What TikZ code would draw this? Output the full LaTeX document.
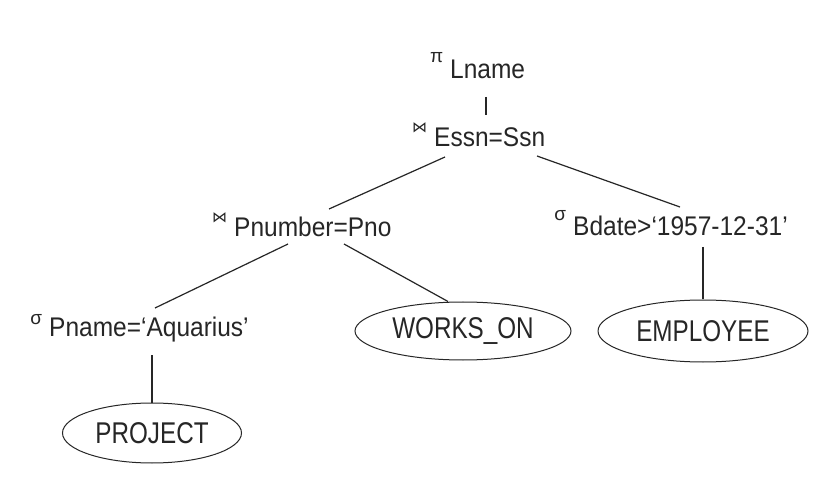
\documentclass[tikz,border=0pt]{standalone}
\usepackage{fontspec}
\setmainfont{Liberation Sans}
\newfontfamily\symfont{DejaVu Sans}
\usetikzlibrary{shapes.geometric,calc}
\definecolor{ink}{HTML}{262626}
\newcommand\opsym[2]{\llap{\raisebox{#2}{#1}\hspace{7pt}}}
\newcommand\sympi{{\fontsize{19}{19}\selectfont π}}
\newcommand\symsigma{{\fontsize{19}{19}\selectfont σ}}
\newcommand\symjoin{{\symfont\fontsize{15}{15}\selectfont ⋈}}
\newcommand\tall[1]{\scalebox{1}[1.1]{#1}}
\newcommand\taller[1]{\scalebox{0.97}[1.2]{#1}}
\begin{document}
\begin{tikzpicture}[x=1pt,y=-1pt,
  lbl/.style={anchor=base west,inner sep=0pt,font=\fontsize{24.5}{28}\selectfont,text=ink},
  rel/.style={ellipse,draw=ink,line width=1pt,inner sep=0pt,font=\fontsize{25}{28}\selectfont,text=ink},
  edge/.style={draw=ink,line width=1.2pt}]
\useasboundingbox (0,0) rectangle (840,502);
\fill[white] (0,0) rectangle (840,502);

\node[lbl] (proj) at (450,79) {\opsym{\sympi}{16pt}\tall{Lname}};
\node[lbl] (join1) at (434,147) {\opsym{\symjoin}{14pt}\tall{Essn=Ssn}};
\node[lbl] (join2) at (234,237) {\opsym{\symjoin}{14pt}\tall{Pnumber=Pno}};
\node[lbl] (sel1) at (49,337) {\opsym{\symsigma}{13pt}\tall{Pname=‘Aquarius’}};
\node[lbl] (sel2) at (573,236) {\opsym{\symsigma}{15pt}\tall{Bdate>‘1957-12-31’}};

\node[rel,minimum width=179pt,minimum height=60pt] (project) at (152,433) {\taller{PROJECT}};
\node[rel,minimum width=216pt,minimum height=58pt] (works) at (463,331) {\taller{WORKS\_ON}};
\node[rel,minimum width=210pt,minimum height=62pt] (employee) at (703,331) {\taller{EMPLOYEE}};

\draw[edge] ($(proj.base west)+(36,18)$) -- ($(join1.base west)+(52,-32)$);
\draw[edge] ($(join1.base west)+(11,10)$) -- ($(join2.base west)+(95,-28)$);
\draw[edge] ($(join1.base west)+(103,9)$) -- ($(sel2.base west)+(107,-29)$);
\draw[edge] ($(join2.base west)+(54,7)$) -- ($(sel1.base west)+(106,-29)$);
\draw[edge] ($(join2.base west)+(110,7)$) -- ([xshift=-15pt]works.north);
\draw[edge] ($(sel1.base west)+(103,18)$) -- (project.north);
\draw[edge] ($(sel2.base west)+(130,11)$) -- (employee.north);
\end{tikzpicture}
\end{document}
